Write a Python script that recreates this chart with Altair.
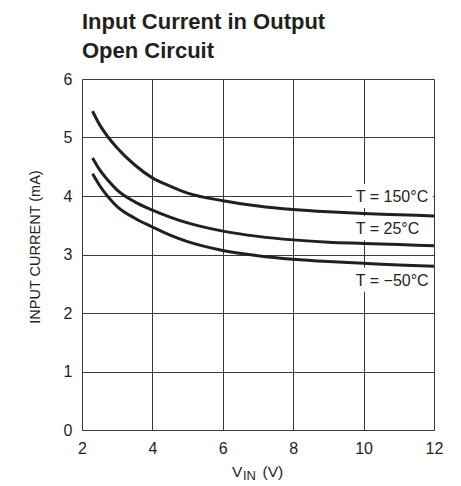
import altair as alt
import pandas as pd

# ---- data ----
vin = [2.3, 2.5, 2.75, 3.0, 3.5, 4.0, 4.5, 5.0, 6.0, 7.0, 8.0, 9.0, 10.0, 11.0, 12.0]
i_150 = [5.45, 5.22, 5.00, 4.82, 4.53, 4.31, 4.17, 4.05, 3.92, 3.83, 3.77, 3.73, 3.70, 3.68, 3.66]
i_25 = [4.65, 4.45, 4.26, 4.10, 3.90, 3.76, 3.64, 3.54, 3.40, 3.31, 3.25, 3.21, 3.19, 3.17, 3.15]
i_m50 = [4.38, 4.18, 3.98, 3.82, 3.62, 3.47, 3.33, 3.22, 3.07, 2.98, 2.92, 2.88, 2.85, 2.82, 2.80]
series_names = ["T = 150°C", "T = 25°C", "T = −50°C"]
label_x = [9.78, 9.78, 9.78]
label_y = [4.0, 3.45, 2.57]
x_ticks = [2, 4, 6, 8, 10, 12]
y_ticks = [0, 1, 2, 3, 4, 5, 6]
title_lines = ["Input Current in Output", "Open Circuit"]
y_title = "INPUT CURRENT (mA)"
x_title_parts = ["V", "IN", "(V)"]

INK = "#231f20"
FONT = "Liberation Sans"
TITLE_FONT = "Liberation Sans"

rows = []
for name, vals in zip(series_names, [i_150, i_25, i_m50]):
    for x, y in zip(vin, vals):
        rows.append({"vin": x, "current": y, "series": name})
df = pd.DataFrame(rows)
labels = pd.DataFrame({"series": series_names, "lx": label_x, "ly": label_y})

xscale = alt.Scale(domain=[2, 12], nice=False, zero=False)
yscale = alt.Scale(domain=[0, 6], nice=False)

xaxis = alt.Axis(values=x_ticks, format="d", title=None, grid=True, ticks=False, domain=False,
                 labelPadding=10, labelFontSize=16, labelFont=FONT, labelColor=INK,
                 gridColor="#3a3a3a", gridWidth=1, gridOpacity=1, labelFlush=False)
yaxis = alt.Axis(values=y_ticks, format="d", title=y_title, grid=True, ticks=False, domain=False,
                 labelPadding=10, labelFontSize=16, labelFont=FONT, labelColor=INK,
                 gridColor="#3a3a3a", gridWidth=1, gridOpacity=1, labelFlush=False,
                 titleFont=FONT, titleFontSize=14.5, titleFontWeight="normal",
                 titleColor=INK, titleX=-47, titleY=167.5, titleAngle=-90,
                 titleAlign="center", titleBaseline="middle")

lines = alt.Chart(df).mark_line(color=INK, strokeWidth=3, interpolate="monotone").encode(
    x=alt.X("vin:Q", scale=xscale, axis=xaxis),
    y=alt.Y("current:Q", scale=yscale, axis=yaxis),
    detail="series:N",
)

boxes = alt.Chart(labels).mark_rect(color="white", opacity=1,
                                    xOffset=-4, x2Offset=77, yOffset=-12, y2Offset=12).encode(
    x=alt.X("lx:Q", scale=xscale),
    x2="lx:Q",
    y=alt.Y("ly:Q", scale=yscale),
    y2="ly:Q",
)

texts = alt.Chart(labels).mark_text(align="left", baseline="middle", font=FONT,
                                    fontSize=16, color=INK, dy=1).encode(
    x=alt.X("lx:Q", scale=xscale),
    y=alt.Y("ly:Q", scale=yscale),
    text="series:N",
)

xt1 = alt.Chart(pd.DataFrame({"t": [x_title_parts[0]]})).mark_text(
    align="left", baseline="alphabetic", font=FONT, fontSize=15.5, color=INK).encode(
    x=alt.value(150), y=alt.value(397.7), text="t:N")
xt2 = alt.Chart(pd.DataFrame({"t": [x_title_parts[1]]})).mark_text(
    align="left", baseline="alphabetic", font=FONT, fontSize=13, color=INK).encode(
    x=alt.value(161), y=alt.value(401), text="t:N")
xt3 = alt.Chart(pd.DataFrame({"t": [x_title_parts[2]]})).mark_text(
    align="left", baseline="alphabetic", font=FONT, fontSize=15.5, color=INK).encode(
    x=alt.value(180.5), y=alt.value(397.7), text="t:N")

chart = alt.layer(boxes, lines, texts, xt1, xt2, xt3).properties(
    width=352, height=351,
    padding={"left": 74, "top": 71, "right": 15, "bottom": 55},
    autosize=alt.AutoSizeParams(type="none"),
    title=alt.TitleParams(text=title_lines, anchor="start", frame="group",
                          font=TITLE_FONT, fontSize=22, fontWeight="bold",
                          lineHeight=29, color=INK, offset=8),
).configure_view(stroke=INK, strokeWidth=1.5).configure(background="white")

chart.save("out.html", embed_options={"renderer": "svg", "actions": False})
